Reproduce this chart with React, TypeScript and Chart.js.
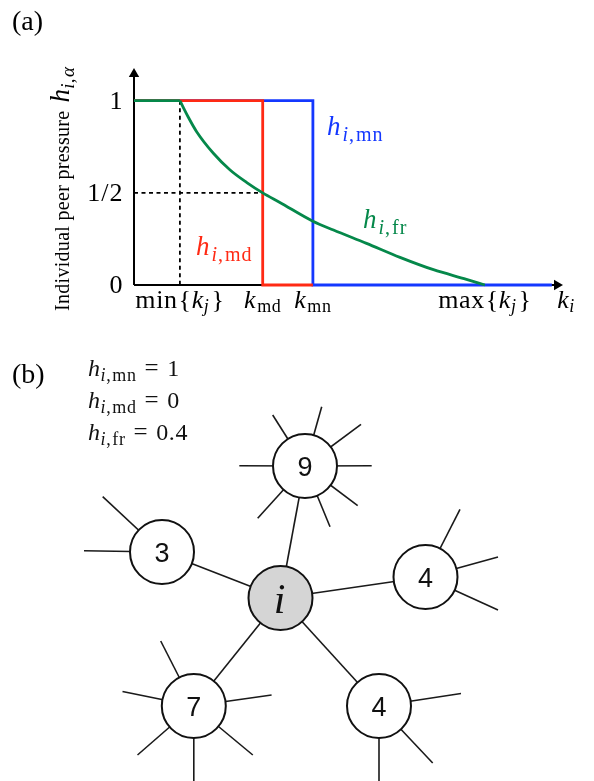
import React, { useEffect, useRef } from "react";
import { Chart, registerables } from "chart.js";
Chart.register(...registerables);

// ---------- Panel (a) data ----------
const K_MIN = 1.07;
const K_MD = 3.0;
const K_MN = 4.17;
const K_MAX = 8.18;
const K_AXIS_END = 10;
const H_AXIS_END = 1.1774;

// green h_fr curve
const greenK = [1.07, 1.26, 1.46, 1.85, 2.24, 2.63, 3.0, 3.4, 4.17, 4.65, 5.42, 6.2, 6.98, 7.75, 8.18];
const greenH = [1.0, 0.913, 0.832, 0.715, 0.624, 0.556, 0.5, 0.448, 0.346, 0.298, 0.226, 0.15, 0.083, 0.031, 0.0];

const redK = [0, K_MD, K_MD, K_MN];
const redH = [1, 1, 0, 0];
const blueK = [0, K_MN, K_MN, 9.74];
const blueH = [1, 1, 0, 0];

const xTickValues = [K_MIN, K_MD, K_MN, K_MAX];
const yTickValues = [0, 0.5, 1];
const yTickLabels = ["0", "1/2", "1"];

// ---------- Panel (b) data ----------
const nodeLabels = ["i", "9", "3", "4", "7", "4"];
const nodeX = [280.5, 305, 162, 425.5, 193.8, 379];
const nodeY = [598, 466, 552, 577, 706, 706];
// neighbours of i
const hubLinks = [1, 2, 3, 4, 5];
// dangling links: owner node index, end x, end y
const stubNode = [1, 1, 1, 1, 1, 1, 1, 1, 2, 2, 3, 3, 3, 4, 4, 4, 4, 4, 4, 5, 5, 5];
const stubX = [272.7, 321.7, 361, 239.3, 371.7, 257.7, 330, 357.7, 102.7, 84, 460, 498, 498, 160.7, 122.5, 271.6, 137.5, 193.8, 252.8, 461, 432.7, 379];
const stubY = [415, 406.7, 424.3, 465.7, 465.7, 518.3, 526.7, 505.7, 496.7, 550.7, 509.3, 557, 610, 641, 691.5, 695, 755, 786, 755, 693.5, 763, 786];

const eqNames = ["mn", "md", "fr"];
const eqValues = ["1", "0", "0.4"];

// ---------- styles ----------
const BLUE = "#1438ff";
const RED = "#ff2a14";
const GREEN = "#05884a";
const SERIF = '"Liberation Serif", "Times New Roman", serif';
const SANS = '"Liberation Sans", Arial, sans-serif';

type Run = { t: string; size: number; it?: boolean; dy?: number; pre?: number; post?: number; fam?: string };
const it = (t: string, size: number, extra: Partial<Run> = {}): Run => ({ t, size, it: true, ...extra });
const up = (t: string, size: number, extra: Partial<Run> = {}): Run => ({ t, size, it: false, ...extra });

function fontOf(r: Run) {
  return `${r.it ? "italic " : ""}${r.size}px ${r.fam || SERIF}`;
}

function drawRuns(
  ctx: CanvasRenderingContext2D,
  runs: Run[],
  x: number,
  y: number,
  align: "left" | "center" | "right",
  color: string,
  ls = 0
) {
  ctx.save();
  ctx.fillStyle = color;
  ctx.textBaseline = "alphabetic";
  ctx.textAlign = "left";
  (ctx as any).letterSpacing = `${ls}px`;
  const widths = runs.map((r) => {
    ctx.font = fontOf(r);
    return (r.pre || 0) + ctx.measureText(r.t).width + (r.post || 0);
  });
  const total = widths.reduce((a, b) => a + b, 0);
  let cx = align === "left" ? x : align === "center" ? x - total / 2 : x - total;
  runs.forEach((r, i) => {
    ctx.font = fontOf(r);
    ctx.fillText(r.t, cx + (r.pre || 0), y + (r.dy || 0));
    cx += widths[i];
  });
  ctx.restore();
}

const TS = 26; // tick size
const SS = 18; // subscript size
const xTickRuns: Run[][] = [
  [up("min", TS, { post: 1 }), up("{", TS), it("k", TS), it("j", SS, { dy: 4, post: 2 }), up("}", TS)],
  [it("k", TS, { post: 1 }), up("md", SS, { dy: 4 })],
  [it("k", TS, { post: 1 }), up("mn", SS, { dy: 4 })],
  [up("max", TS, { post: 1 }), up("{", TS), it("k", TS), it("j", SS, { dy: 4, post: 2 }), up("}", TS)],
];

const hLabel = (sub: string, size: number, subSize: number, dy: number): Run[] => [
  it("h", size, { post: 1 }),
  it("i", subSize, { dy }),
  up(",", subSize, { dy, post: 1 }),
  up(sub, subSize, { dy }),
];

const panelAText = {
  id: "panelAText",
  afterDraw(chart: any) {
    const ctx: CanvasRenderingContext2D = chart.ctx;
    const xs = chart.scales.x;
    const ys = chart.scales.y;
    const y0 = ys.getPixelForValue(0);
    const x0 = xs.getPixelForValue(0);
    xTickValues.forEach((v, i) => {
      drawRuns(ctx, xTickRuns[i], xs.getPixelForValue(v), y0 + 23, "center", "#000", 0.6);
    });
    // axis title k_i
    drawRuns(ctx, [it("k", TS), it("i", SS, { dy: 4 })], xs.getPixelForValue(K_AXIS_END) + 3, y0 + 23, "center", "#000", 0.6);
    yTickValues.forEach((v, i) => {
      drawRuns(ctx, [up(yTickLabels[i], TS)], x0 - 10.5, ys.getPixelForValue(v) + 8, "right", "#000", 1);
    });
    // y title
    ctx.save();
    ctx.translate(69, 311);
    ctx.rotate(-Math.PI / 2);
    drawRuns(
      ctx,
      [up("Individual peer pressure", 20, { post: 8 }), it("h", 27), it("i", 19, { dy: 5 }), up(",", 19, { dy: 5, post: 1 }), it("α", 19, { dy: 5 })],
      0,
      0,
      "left",
      "#000",
      0.3
    );
    ctx.restore();
    // curve labels
    drawRuns(ctx, hLabel("mn", 27, 20, 6), 327, 135, "left", BLUE, 1);
    drawRuns(ctx, hLabel("fr", 27, 20, 6), 363, 228, "left", GREEN, 1);
    drawRuns(ctx, hLabel("md", 27, 20, 6), 196, 255, "left", RED, 1);
    // panel letter
    drawRuns(ctx, [up("(a)", 28)], 12, 30, "left", "#000");
  },
};

const panelBText = {
  id: "panelBText",
  afterDatasetsDraw(chart: any) {
    const ctx: CanvasRenderingContext2D = chart.ctx;
    const xs = chart.scales.x;
    const ys = chart.scales.y;
    const meta = chart.getDatasetMeta(chart.data.datasets.length - 1);
    meta.data.forEach((pt: any, i: number) => {
      const lab = nodeLabels[i];
      ctx.save();
      ctx.fillStyle = "#111";
      ctx.textAlign = "center";
      ctx.textBaseline = "alphabetic";
      if (lab === "i") {
        ctx.font = `italic 42px ${SERIF}`;
        ctx.fillText(lab, pt.x - 1, pt.y + 15);
      } else {
        ctx.font = `27px ${SANS}`;
        ctx.fillText(lab, pt.x, pt.y + 10);
      }
      ctx.restore();
    });
    drawRuns(ctx, [up("(b)", 28)], xs.getPixelForValue(12), ys.getPixelForValue(383), "left", "#000");
    eqNames.forEach((nm, i) => {
      drawRuns(
        ctx,
        [
          it("h", 24),
          it("i", 18, { dy: 5 }),
          up(",", 18, { dy: 5, post: 1 }),
          up(nm, 18, { dy: 5 }),
          up("=", 25, { pre: 8, post: 8 }),
          up(eqValues[i], 24),
        ],
        xs.getPixelForValue(88),
        ys.getPixelForValue(376 + i * 32),
        "left",
        "#111",
        0.6
      );
    });
  },
};

const pts = (xs: number[], ys: number[]) => xs.map((x, i) => ({ x, y: ys[i] }));

function lineDs(data: { x: number; y: number }[], color: string, width: number, extra: any = {}) {
  return {
    data,
    borderColor: color,
    backgroundColor: color,
    borderWidth: width,
    pointRadius: 0,
    pointHoverRadius: 0,
    showLine: true,
    fill: false,
    clip: false as any,
    ...extra,
  };
}

export default function App() {
  const aRef = useRef<HTMLCanvasElement>(null);
  const bRef = useRef<HTMLCanvasElement>(null);

  useEffect(() => {
    const chartA = new Chart(aRef.current!, {
      type: "scatter",
      data: {
        datasets: [
          lineDs(pts(greenK, greenH), GREEN, 2.8, { cubicInterpolationMode: "monotone", order: 0 }),
          lineDs(pts([0, K_MIN], [1, 1]), GREEN, 2.8, { order: 0 }),
          lineDs(pts(redK, redH), RED, 2.8, { order: 1 }),
          lineDs(pts(blueK, blueH), BLUE, 2.8, { order: 2 }),
          lineDs(pts([K_MIN, K_MIN], [1, 0]), "#000", 1.8, { borderDash: [4, 3.5], order: 3 }),
          lineDs(pts([0, K_MD], [0.5, 0.5]), "#000", 1.8, { borderDash: [4, 3.5], order: 3 }),
          lineDs(pts([0, 9.86], [0, 0]), "#000", 2, {
            order: 4,
            pointRadius: [0, 6],
            pointStyle: "triangle",
            pointRotation: 90,
            pointBorderWidth: 0,
            pointBackgroundColor: "#000",
          }),
          lineDs(pts([0, 0], [0, 1.145]), "#000", 2, {
            order: 4,
            pointRadius: [0, 6],
            pointStyle: "triangle",
            pointRotation: 0,
            pointBorderWidth: 0,
            pointBackgroundColor: "#000",
          }),
        ] as any,
      },
      options: {
        responsive: false,
        maintainAspectRatio: false,
        animation: false,
        events: [],
        layout: { autoPadding: false, padding: { left: 134, right: 31, top: 68, bottom: 55 } },
        scales: {
          x: { type: "linear", min: 0, max: K_AXIS_END, display: false },
          y: { type: "linear", min: 0, max: H_AXIS_END, display: false },
        },
        plugins: { legend: { display: false }, tooltip: { enabled: false } },
      },
      plugins: [panelAText],
    });

    const edgeSets: any[] = [];
    hubLinks.forEach((n) => {
      edgeSets.push(lineDs(pts([nodeX[0], nodeX[n]], [nodeY[0], nodeY[n]]), "#1a1a1a", 1.6, { order: 1 }));
    });
    stubNode.forEach((n, i) => {
      edgeSets.push(lineDs(pts([nodeX[n], stubX[i]], [nodeY[n], stubY[i]]), "#1a1a1a", 1.6, { order: 1 }));
    });
    const nodeSet = {
      data: pts(nodeX, nodeY),
      pointRadius: 32,
      pointHoverRadius: 32,
      pointBackgroundColor: nodeLabels.map((l) => (l === "i" ? "#d5d5d5" : "#ffffff")),
      pointBorderColor: "#111",
      pointBorderWidth: 2,
      showLine: false,
      clip: false,
      order: 0,
    };

    const chartB = new Chart(bRef.current!, {
      type: "scatter",
      data: { datasets: [...edgeSets, nodeSet] as any },
      options: {
        responsive: false,
        maintainAspectRatio: false,
        animation: false,
        events: [],
        layout: { autoPadding: false, padding: 0 },
        scales: {
          x: { type: "linear", min: 0, max: 594, display: false },
          y: { type: "linear", min: 340, max: 781, reverse: true, display: false },
        },
        plugins: { legend: { display: false }, tooltip: { enabled: false } },
      },
      plugins: [panelBText],
    });

    return () => {
      chartA.destroy();
      chartB.destroy();
    };
  }, []);

  return (
    <div style={{ position: "absolute", left: 0, top: 0, width: 594, height: 781, background: "#fff" }}>
      <canvas ref={aRef} width={594} height={340} style={{ position: "absolute", left: 0, top: 0, width: 594, height: 340 }} />
      <canvas ref={bRef} width={594} height={441} style={{ position: "absolute", left: 0, top: 340, width: 594, height: 441 }} />
    </div>
  );
}
